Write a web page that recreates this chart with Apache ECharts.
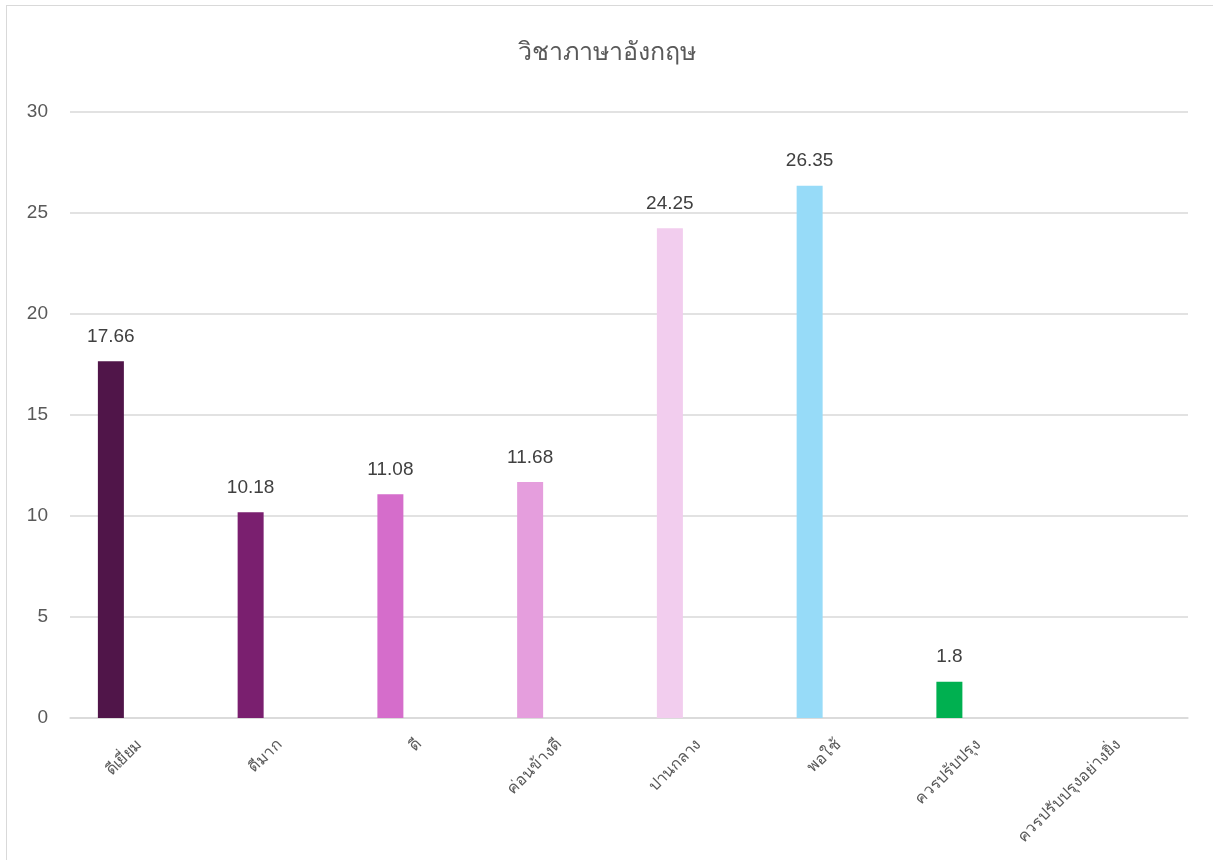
<!DOCTYPE html>
<html><head><meta charset="utf-8">
<script src="https://cdn.jsdelivr.net/npm/echarts@6/dist/echarts.min.js"></script>
<style>
html,body{margin:0;padding:0;background:#fff;overflow:hidden;}
#frame{position:absolute;left:6px;top:5px;width:1400px;height:1000px;border:1.5px solid #d9d9d9;box-sizing:border-box;}
#main{position:absolute;left:0;top:0;width:1213px;height:860px;}
</style></head>
<body>
<div id="frame"></div>
<div id="main"></div>
<script>
const categories = ['ดีเยี่ยม','ดีมาก','ดี','ค่อนข้างดี','ปานกลาง','พอใช้','ควรปรับปรุง','ควรปรับปรุงอย่างยิ่ง'];
const values = [17.66, 10.18, 11.08, 11.68, 24.25, 26.35, 1.8, null];
const barColors = ['#501549','#7a1f6f','#d56dcb','#e59edd','#f2cdee','#97dbf8','#00b050','#cccccc'];
const yTicks = [0, 5, 10, 15, 20, 25, 30];

const font = '"Liberation Sans", "Noto Sans", sans-serif';
const chart = echarts.init(document.getElementById('main'));
chart.setOption({
  animation:false,
  backgroundColor:'transparent',
  title:{text:'วิชาภาษาอังกฤษ',left:'center',top:36,textStyle:{fontFamily:font,fontSize:25,fontWeight:'normal',color:'#595959'}},
  grid:{left:70,right:25,top:112,bottom:142,containLabel:false},
  xAxis:{type:'category',data:categories,
    axisLine:{lineStyle:{color:'#d9d9d9',width:1.5}},
    axisTick:{show:false},
    axisLabel:{rotate:45,interval:0,fontFamily:font,fontSize:16,color:'#595959',margin:24}
  },
  yAxis:{type:'value',min:yTicks[0],max:yTicks[yTicks.length-1],interval:5,
    axisLine:{show:false},axisTick:{show:false},
    splitLine:{lineStyle:{color:'#d9d9d9',width:1.5}},
    axisLabel:{fontFamily:font,fontSize:19,color:'#595959',margin:22}
  },
  series:[
    {type:'bar',barWidth:26,barGap:'123%',
     data:values.map((v,i)=>({value:v,itemStyle:{color:barColors[i]}})),
     label:{show:true,position:'top',distance:15,fontFamily:font,fontSize:19,color:'#404040'}
    },
    {type:'bar',barWidth:26,data:values.map(()=>null)}
  ]
});
</script>
</body></html>
